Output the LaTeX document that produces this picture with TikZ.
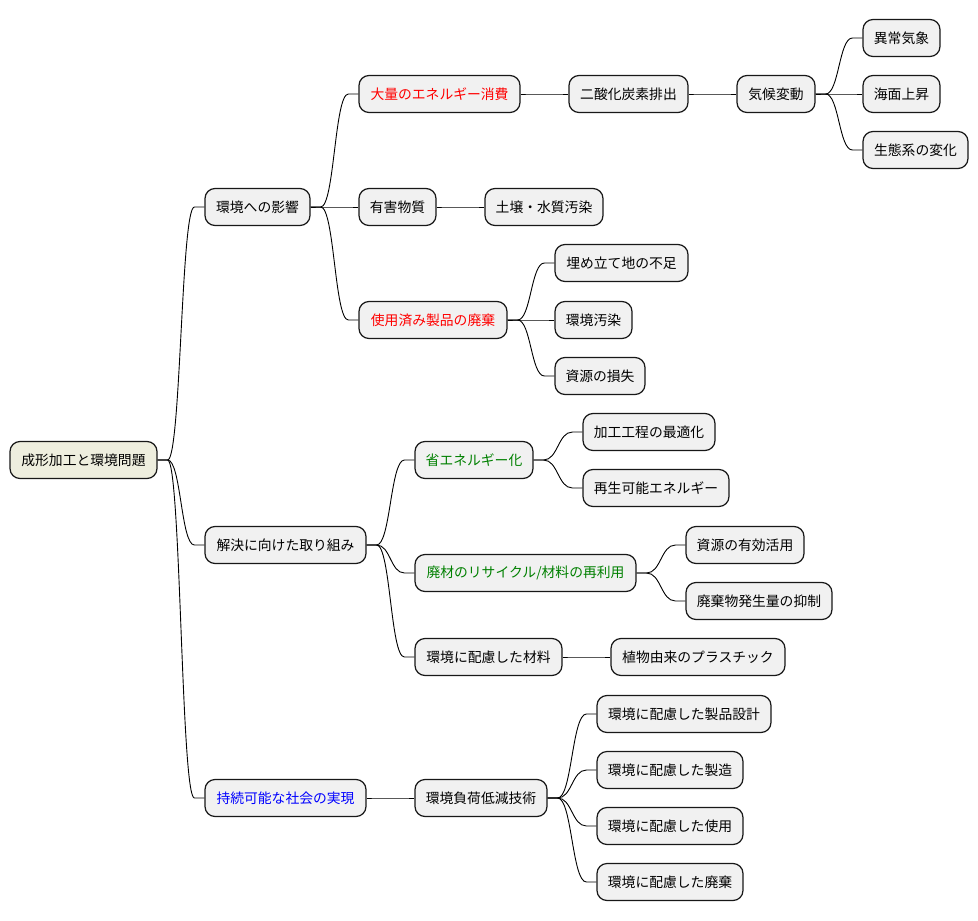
\documentclass[tikz,border=0pt]{standalone}
\usepackage{fontspec}
\setmainfont{Noto Sans CJK JP}
\usetikzlibrary{calc}
\definecolor{boxfill}{HTML}{F1F1F1}
\definecolor{rootfill}{HTML}{EEEEDE}
\definecolor{boxline}{HTML}{181818}
\definecolor{tred}{HTML}{FF0000}
\definecolor{tgreen}{HTML}{008000}
\definecolor{tblue}{HTML}{0000FF}
\tikzset{
  mmbox/.style={draw=boxline, line width=1.2pt, fill=boxfill, rounded corners=10pt,
    minimum height=37pt, inner sep=0pt, align=center, font=\fontsize{13.8pt}{16pt}\selectfont},
  mmroot/.style={mmbox, fill=rootfill},
  mmlink/.style={draw=black, line width=0.9pt}
}
\newcommand{\mmnode}[7][mmbox]{%
  \pgfmathsetmacro{\mmcx}{(#3+#4)/2}\pgfmathsetmacro{\mmw}{#4-#3}%
  \node[#1, minimum width=\mmw pt, text=#6] (#2) at (\mmcx,#5) {#7};}
\newcommand{\mmlink}[2]{%
  \draw[mmlink] let \p1=(#1.east), \p2=(#2.west) in
    (\p1) -- (\x1+10pt,\y1) .. controls ({(\x1+\x2)/2},\y1) and ({(\x1+\x2)/2},\y2) .. (\x2-10pt,\y2) -- (\p2);}
\begin{document}
\begin{tikzpicture}[x=1pt,y=-1pt]
\useasboundingbox (0,0) rectangle (978,921);
\mmnode[mmroot]{root}{10}{157}{460}{black}{成形加工と環境問題}
\mmnode{a}{205}{310}{207}{black}{環境への影響}
\mmnode{b}{205}{366}{545}{black}{解決に向けた取り組み}
\mmnode{c}{205}{366}{798}{tblue}{持続可能な社会の実現}
\mmnode{a1}{359}{520}{94}{tred}{大量のエネルギー消費}
\mmnode{a2}{359}{436}{207}{black}{有害物質}
\mmnode{a3}{359}{507}{320}{tred}{使用済み製品の廃棄}
\mmnode{a11}{569}{688}{94}{black}{二酸化炭素排出}
\mmnode{a111}{737}{815}{94}{black}{気候変動}
\mmnode{a1111}{863}{940}{38}{black}{異常気象}
\mmnode{a1112}{863}{940}{94}{black}{海面上昇}
\mmnode{a1113}{863}{968}{150}{black}{生態系の変化}
\mmnode{a21}{485}{603}{207}{black}{土壌・水質汚染}
\mmnode{a31}{555}{688}{263}{black}{埋め立て地の不足}
\mmnode{a32}{555}{632}{320}{black}{環境汚染}
\mmnode{a33}{555}{645}{376}{black}{資源の損失}
\mmnode{b1}{415}{533}{460}{tgreen}{省エネルギー化}
\mmnode{b11}{583}{715}{432}{black}{加工工程の最適化}
\mmnode{b12}{583}{729}{488}{black}{再生可能エネルギー}
\mmnode{b2}{415}{636}{573}{tgreen}{廃材のリサイクル/材料の再利用}
\mmnode{b21}{686}{804}{545}{black}{資源の有効活用}
\mmnode{b22}{686}{832}{601}{black}{廃棄物発生量の抑制}
\mmnode{b3}{415}{562}{657}{black}{環境に配慮した材料}
\mmnode{b31}{611}{785}{657}{black}{植物由来のプラスチック}
\mmnode{c1}{415}{547}{798}{black}{環境負荷低減技術}
\mmnode{c11}{597}{771}{714}{black}{環境に配慮した製品設計}
\mmnode{c12}{597}{743}{770}{black}{環境に配慮した製造}
\mmnode{c13}{597}{743}{826}{black}{環境に配慮した使用}
\mmnode{c14}{597}{743}{882}{black}{環境に配慮した廃棄}
\mmlink{root}{a}\mmlink{root}{b}\mmlink{root}{c}
\mmlink{a}{a1}\mmlink{a}{a2}\mmlink{a}{a3}
\mmlink{a1}{a11}\mmlink{a11}{a111}
\mmlink{a111}{a1111}\mmlink{a111}{a1112}\mmlink{a111}{a1113}
\mmlink{a2}{a21}
\mmlink{a3}{a31}\mmlink{a3}{a32}\mmlink{a3}{a33}
\mmlink{b}{b1}\mmlink{b}{b2}\mmlink{b}{b3}
\mmlink{b1}{b11}\mmlink{b1}{b12}
\mmlink{b2}{b21}\mmlink{b2}{b22}
\mmlink{b3}{b31}
\mmlink{c}{c1}
\mmlink{c1}{c11}\mmlink{c1}{c12}\mmlink{c1}{c13}\mmlink{c1}{c14}
\end{tikzpicture}
\end{document}
